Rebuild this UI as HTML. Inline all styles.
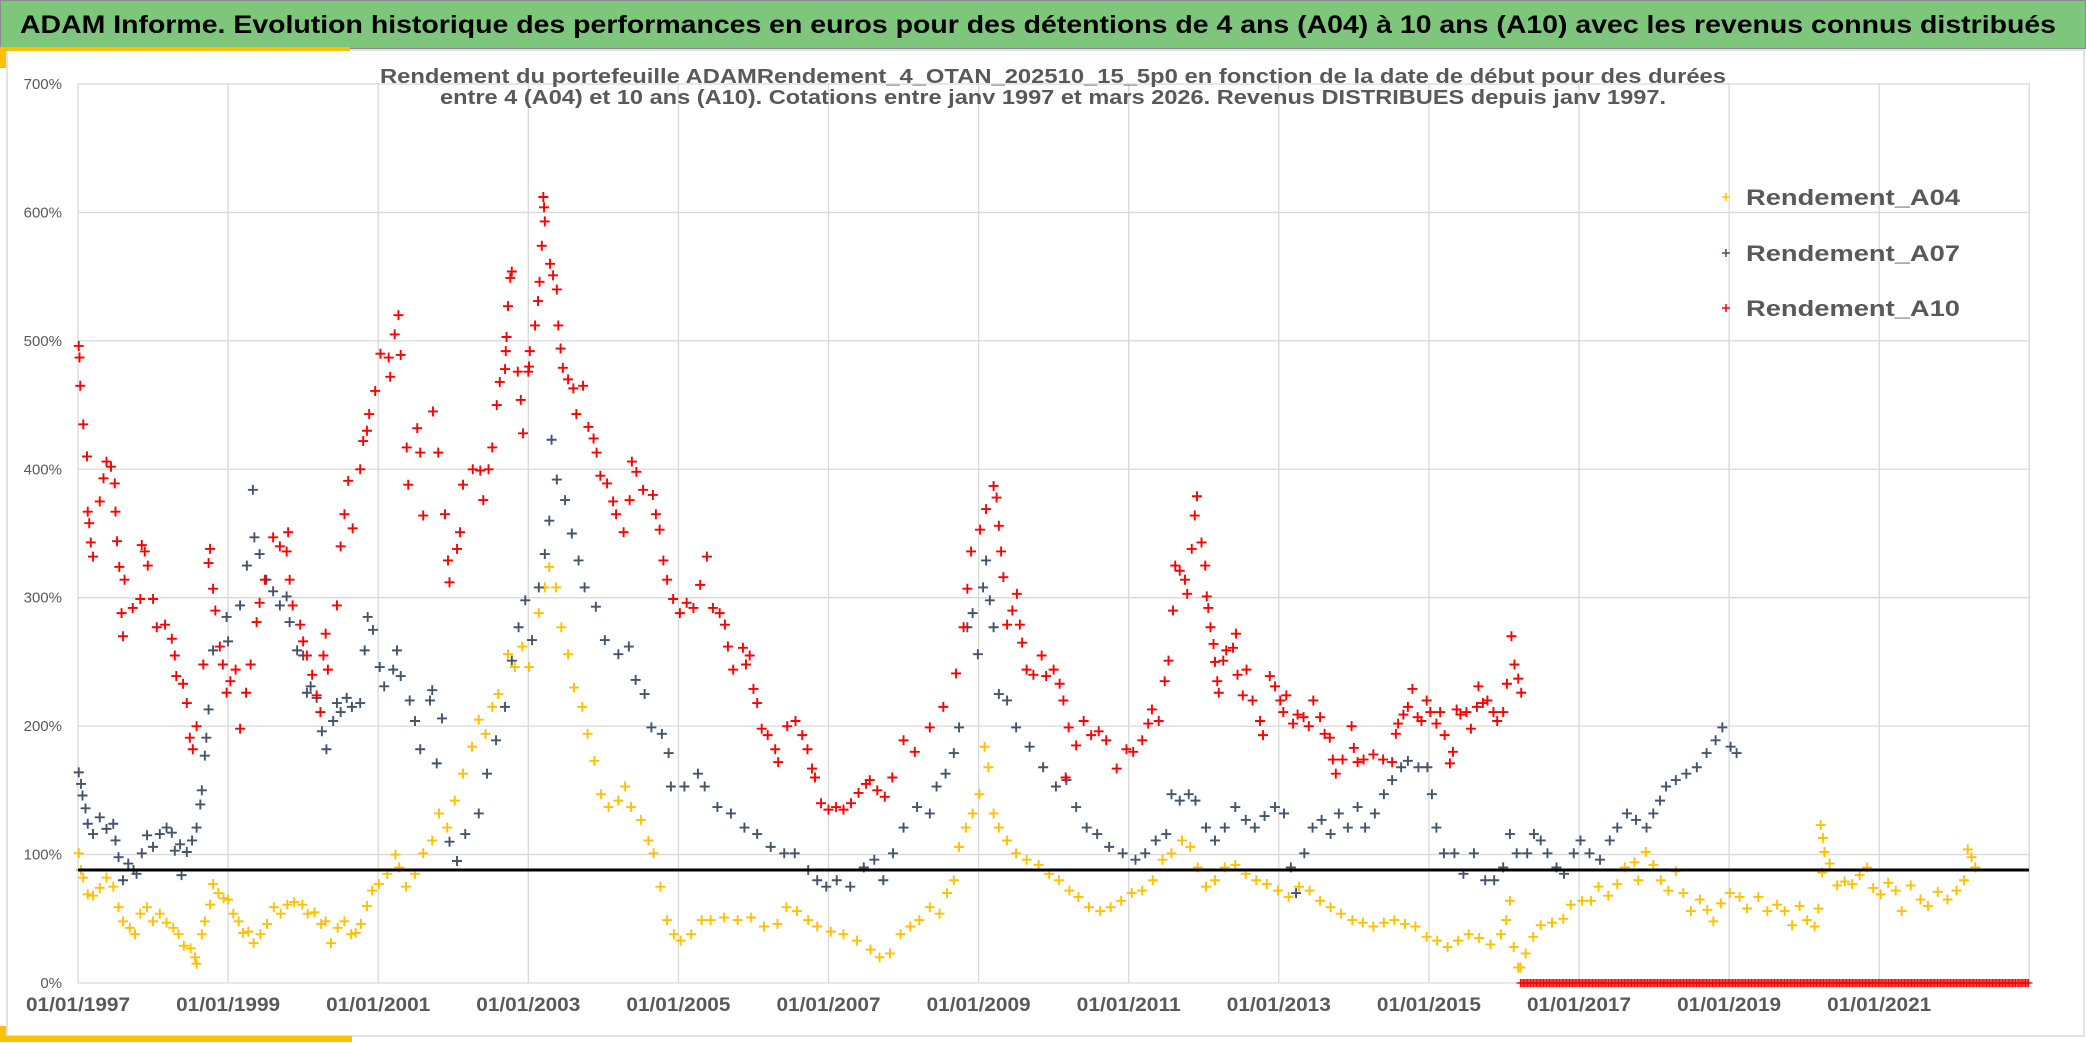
<!DOCTYPE html>
<html><head><meta charset="utf-8"><title>ADAM Informe</title>
<style>
html,body{margin:0;padding:0;background:#fff;}
svg{display:block;}
text{font-family:"Liberation Sans",sans-serif;}
</style></head>
<body>
<svg id="chart" width="2086" height="1043" viewBox="0 0 2086 1043" xmlns="http://www.w3.org/2000/svg">
<rect x="0" y="0" width="2086" height="1043" fill="#ffffff"/>
<rect x="7" y="50" width="2077" height="986" fill="none" stroke="#d9d9d9" stroke-width="1.5"/>
<rect x="0.5" y="0.5" width="2085" height="48" fill="#7dc67c" stroke="#8a8a8a" stroke-width="1"/>
<rect x="0" y="47" width="350" height="4" fill="#ffc000"/>
<rect x="0" y="47" width="6" height="21" fill="#ffc000"/>
<rect x="0" y="1036" width="352" height="6" fill="#ffc000"/>
<rect x="0" y="1026" width="6" height="16" fill="#ffc000"/>
<text x="20" y="33" font-size="25" font-weight="bold" fill="#000" textLength="2036" lengthAdjust="spacingAndGlyphs">ADAM Informe. Evolution historique des performances en euros pour des détentions de 4 ans (A04) à 10 ans (A10) avec les revenus connus distribués</text>
<g id="grid"></g>
<g id="axes"></g>
<text x="380" y="83" font-size="20" font-weight="bold" fill="#595959" textLength="1346" lengthAdjust="spacingAndGlyphs">Rendement du portefeuille ADAMRendement_4_OTAN_202510_15_5p0  en fonction de la date de début pour des durées</text>
<text x="440" y="104" font-size="20" font-weight="bold" fill="#595959" textLength="1226" lengthAdjust="spacingAndGlyphs">entre 4 (A04) et 10 ans (A10). Cotations entre janv 1997 et mars 2026. Revenus DISTRIBUES depuis janv 1997.</text>
<g id="marks"></g>
<g id="legend"></g>
</svg>
<script>
// ---- data ----
const yTicks = [0,100,200,300,400,500,600,700];
const xTickYears = [1997,1999,2001,2003,2005,2007,2009,2011,2013,2015,2017,2019,2021];
const xTickLabels = ["01/01/1997","01/01/1999","01/01/2001","01/01/2003","01/01/2005","01/01/2007","01/01/2009","01/01/2011","01/01/2013","01/01/2015","01/01/2017","01/01/2019","01/01/2021"];
const seriesNames = ["Rendement_A04","Rendement_A07","Rendement_A10"];
const referenceLevel = 88;

const a04Dates = [1997.01,1997.04,1997.07,1997.13,1997.2,1997.29,1997.38,1997.47,1997.54,1997.6,1997.69,1997.76,1997.83,1997.92,1998.0,1998.09,1998.18,1998.27,1998.34,1998.41,1998.5,1998.56,1998.58,1998.65,1998.69,1998.76,1998.8,1998.87,1998.94,1999.0,1999.07,1999.14,1999.2,1999.27,1999.34,1999.43,1999.52,1999.61,1999.7,1999.79,1999.88,1999.99,2000.06,2000.15,2000.24,2000.3,2000.37,2000.46,2000.55,2000.64,2000.7,2000.77,2000.85,2000.92,2001.01,2001.12,2001.23,2001.28,2001.37,2001.49,2001.6,2001.72,2001.81,2001.92,2002.02,2002.13,2002.25,2002.34,2002.43,2002.52,2002.6,2002.73,2002.82,2002.92,2003.01,2003.14,2003.22,2003.28,2003.37,2003.44,2003.53,2003.61,2003.72,2003.79,2003.88,2003.97,2004.07,2004.2,2004.29,2004.37,2004.5,2004.6,2004.67,2004.76,2004.85,2004.94,2005.03,2005.17,2005.31,2005.43,2005.61,2005.79,2005.97,2006.14,2006.32,2006.44,2006.58,2006.73,2006.85,2007.03,2007.2,2007.38,2007.56,2007.68,2007.82,2007.96,2008.09,2008.21,2008.35,2008.48,2008.58,2008.67,2008.74,2008.83,2008.92,2009.01,2009.08,2009.13,2009.2,2009.27,2009.38,2009.5,2009.64,2009.8,2009.94,2010.07,2010.21,2010.33,2010.47,2010.62,2010.76,2010.9,2011.04,2011.18,2011.32,2011.45,2011.57,2011.71,2011.82,2011.92,2012.03,2012.15,2012.28,2012.42,2012.56,2012.7,2012.84,2012.99,2013.13,2013.27,2013.41,2013.55,2013.69,2013.83,2013.98,2014.12,2014.26,2014.4,2014.54,2014.68,2014.82,2014.97,2015.11,2015.25,2015.39,2015.53,2015.67,2015.82,2015.96,2016.03,2016.08,2016.13,2016.19,2016.22,2016.29,2016.39,2016.49,2016.64,2016.79,2016.89,2017.04,2017.16,2017.26,2017.39,2017.51,2017.61,2017.74,2017.79,2017.89,2017.99,2018.09,2018.19,2018.29,2018.39,2018.49,2018.61,2018.71,2018.79,2018.89,2019.01,2019.14,2019.24,2019.39,2019.51,2019.64,2019.74,2019.84,2019.94,2020.04,2020.14,2020.19,2020.22,2020.25,2020.27,2020.24,2020.34,2020.44,2020.54,2020.64,2020.74,2020.84,2020.92,2021.02,2021.12,2021.22,2021.3,2021.42,2021.55,2021.65,2021.78,2021.91,2022.03,2022.13,2022.18,2022.23,2022.28];
const a04Values = [101,88,82,69,68,74,82,75,59,48,43,38,54,59,48,54,47,43,38,29,27,20,15,38,48,61,77,70,66,65,54,48,39,40,31,38,46,59,54,61,63,61,54,55,46,48,31,43,48,38,39,46,60,72,77,85,100,90,75,85,101,111,132,121,142,163,184,205,194,215,225,256,246,262,246,288,308,324,308,277,256,230,215,194,173,147,137,142,153,137,127,111,101,75,49,38,33,38,49,49,51,49,51,44,46,59,56,49,44,40,38,33,26,20,23,38,44,49,59,54,70,80,106,121,132,147,184,168,132,121,111,101,96,92,85,80,72,67,59,56,59,64,70,72,80,96,101,111,106,90,75,80,90,92,85,80,77,72,67,75,72,64,59,54,49,47,44,47,49,46,44,36,33,28,33,38,35,30,38,49,64,28,12,12,23,36,45,47,50,61,64,64,75,68,77,90,94,80,102,92,80,72,87,70,56,65,57,48,62,70,67,58,67,56,61,56,45,60,49,44,58,123,113,102,86,93,76,79,77,84,90,74,69,78,72,56,76,65,60,71,65,72,80,104,98,90];

const a07Dates = [1997.01,1997.04,1997.06,1997.1,1997.13,1997.2,1997.29,1997.38,1997.47,1997.5,1997.54,1997.6,1997.67,1997.74,1997.78,1997.85,1997.92,1998.0,1998.09,1998.18,1998.25,1998.29,1998.36,1998.38,1998.45,1998.52,1998.58,1998.63,1998.65,1998.69,1998.71,1998.74,1998.8,1998.98,1999.0,1999.16,1999.25,1999.33,1999.35,1999.42,1999.51,1999.6,1999.69,1999.78,1999.82,1999.92,2000.0,2000.05,2000.1,2000.18,2000.25,2000.31,2000.4,2000.45,2000.5,2000.58,2000.65,2000.76,2000.82,2000.86,2000.93,2001.02,2001.08,2001.2,2001.25,2001.3,2001.42,2001.49,2001.56,2001.69,2001.72,2001.78,2001.85,2001.95,2002.05,2002.16,2002.34,2002.45,2002.57,2002.69,2002.78,2002.87,2002.96,2003.05,2003.14,2003.22,2003.28,2003.31,2003.38,2003.49,2003.58,2003.67,2003.75,2003.9,2004.02,2004.2,2004.34,2004.43,2004.55,2004.64,2004.78,2004.87,2004.9,2005.08,2005.26,2005.35,2005.52,2005.7,2005.88,2006.05,2006.23,2006.41,2006.55,2006.73,2006.85,2006.97,2007.11,2007.29,2007.47,2007.61,2007.73,2007.86,2008.0,2008.18,2008.35,2008.44,2008.56,2008.67,2008.74,2008.85,2008.92,2008.99,2009.06,2009.1,2009.15,2009.2,2009.27,2009.38,2009.5,2009.68,2009.86,2010.03,2010.17,2010.3,2010.44,2010.58,2010.74,2010.92,2011.09,2011.22,2011.36,2011.5,2011.57,2011.68,2011.8,2011.89,2012.03,2012.15,2012.28,2012.42,2012.56,2012.68,2012.81,2012.95,2013.07,2013.16,2013.23,2013.34,2013.45,2013.57,2013.69,2013.8,2013.92,2014.05,2014.15,2014.28,2014.4,2014.51,2014.63,2014.72,2014.86,2014.98,2015.04,2015.1,2015.2,2015.34,2015.46,2015.6,2015.75,2015.87,2015.99,2016.08,2016.17,2016.31,2016.4,2016.49,2016.58,2016.7,2016.8,2016.93,2017.02,2017.14,2017.28,2017.41,2017.51,2017.64,2017.76,2017.9,2017.99,2018.08,2018.16,2018.29,2018.43,2018.57,2018.7,2018.82,2018.91,2019.02,2019.1];
const a07Values = [164,155,146,136,124,116,129,120,124,111,98,80,93,88,85,101,115,106,116,121,117,103,108,84,102,111,121,139,150,177,191,213,259,285,266,294,325,384,347,334,314,305,294,301,281,259,255,226,231,222,196,182,204,218,211,222,215,218,259,285,275,246,231,244,259,239,220,204,182,220,228,171,206,110,95,116,132,163,189,215,251,277,298,267,308,334,360,423,392,376,350,329,308,293,267,256,262,236,225,199,194,179,153,153,163,153,137,132,121,116,106,101,101,88,80,75,80,75,90,96,80,101,121,137,132,153,163,179,199,277,288,256,308,329,298,277,225,220,199,184,168,153,158,137,121,116,106,101,96,101,111,116,147,142,147,142,121,111,121,137,127,121,130,137,132,90,70,101,121,127,116,132,121,137,121,132,147,158,168,173,168,168,147,121,101,101,85,101,80,80,90,116,101,101,116,111,101,90,85,101,111,101,96,111,121,132,127,121,132,142,153,158,163,168,179,189,199,184,179];

const a10Dates = [1997.01,1997.02,1997.03,1997.07,1997.12,1997.13,1997.15,1997.17,1997.2,1997.29,1997.34,1997.38,1997.44,1997.49,1997.5,1997.52,1997.55,1997.58,1997.6,1997.62,1997.73,1997.83,1997.85,1997.89,1997.93,1998.0,1998.05,1998.16,1998.25,1998.29,1998.31,1998.4,1998.45,1998.49,1998.53,1998.58,1998.67,1998.74,1998.76,1998.8,1998.83,1998.89,1998.93,1998.98,1999.03,1999.1,1999.16,1999.24,1999.3,1999.38,1999.42,1999.49,1999.6,1999.69,1999.78,1999.8,1999.82,1999.86,1999.96,2000.0,2000.05,2000.12,2000.18,2000.23,2000.27,2000.3,2000.33,2000.45,2000.5,2000.55,2000.6,2000.66,2000.76,2000.8,2000.85,2000.88,2000.96,2001.03,2001.14,2001.16,2001.22,2001.27,2001.3,2001.38,2001.4,2001.52,2001.56,2001.6,2001.73,2001.8,2001.89,2001.93,2001.95,2002.05,2002.09,2002.13,2002.26,2002.36,2002.4,2002.47,2002.52,2002.58,2002.62,2002.69,2002.7,2002.71,2002.73,2002.76,2002.78,2002.86,2002.9,2002.93,2003.0,2003.01,2003.02,2003.09,2003.13,2003.15,2003.18,2003.2,2003.21,2003.22,2003.29,2003.33,2003.38,2003.4,2003.43,2003.46,2003.53,2003.6,2003.64,2003.73,2003.8,2003.87,2003.91,2003.96,2004.05,2004.13,2004.17,2004.27,2004.35,2004.38,2004.44,2004.53,2004.66,2004.7,2004.75,2004.8,2004.85,2004.93,2005.02,2005.11,2005.2,2005.29,2005.38,2005.46,2005.55,2005.62,2005.66,2005.73,2005.86,2005.9,2005.95,2006.0,2006.05,2006.11,2006.19,2006.29,2006.33,2006.45,2006.56,2006.65,2006.72,2006.78,2006.82,2006.9,2007.0,2007.1,2007.2,2007.3,2007.4,2007.5,2007.55,2007.65,2007.75,2007.85,2008.0,2008.15,2008.35,2008.53,2008.7,2008.8,2008.85,2008.9,2009.02,2009.1,2009.2,2009.24,2009.27,2009.3,2009.33,2009.38,2009.45,2009.51,2009.55,2009.58,2009.64,2009.73,2009.84,2009.9,2010.0,2010.08,2010.13,2010.16,2010.2,2010.3,2010.4,2010.5,2010.6,2010.7,2010.84,2010.97,2011.06,2011.18,2011.26,2011.31,2011.4,2011.48,2011.53,2011.59,2011.62,2011.68,2011.75,2011.78,2011.84,2011.88,2011.91,2011.97,2012.02,2012.04,2012.06,2012.09,2012.13,2012.15,2012.18,2012.2,2012.26,2012.3,2012.39,2012.43,2012.45,2012.52,2012.57,2012.65,2012.75,2012.79,2012.88,2012.95,2013.02,2013.06,2013.1,2013.19,2013.25,2013.33,2013.4,2013.46,2013.55,2013.61,2013.68,2013.72,2013.76,2013.85,2013.97,2014.0,2014.05,2014.13,2014.26,2014.39,2014.51,2014.56,2014.59,2014.66,2014.72,2014.78,2014.85,2014.9,2014.97,2015.02,2015.1,2015.15,2015.21,2015.28,2015.32,2015.37,2015.42,2015.5,2015.56,2015.64,2015.66,2015.72,2015.78,2015.86,2015.91,2015.99,2016.04,2016.1,2016.14,2016.19,2016.23];
const a10Values = [496,487,465,435,410,367,358,343,332,375,393,406,402,389,367,344,324,288,270,314,292,299,341,336,325,299,277,279,268,255,239,233,218,191,182,200,248,327,338,307,290,262,248,226,235,244,198,226,248,281,296,314,347,340,336,351,314,294,279,266,255,240,224,211,255,272,244,294,340,365,391,354,400,422,430,443,461,490,487,472,505,520,489,417,388,432,413,364,445,413,365,329,312,338,351,388,400,399,376,400,417,450,468,478,492,503,527,549,554,476,454,428,476,480,492,512,531,546,574,612,604,593,560,551,540,512,494,479,470,463,443,465,433,424,413,395,389,375,365,351,376,406,398,384,380,365,353,329,314,299,288,296,292,310,332,292,288,279,262,244,261,248,255,229,218,198,193,182,172,200,204,193,182,167,160,140,135,137,135,140,148,155,158,150,145,160,189,180,199,215,241,277,307,336,353,369,387,378,356,336,316,279,290,303,279,265,244,240,255,239,244,233,220,160,199,185,204,193,196,189,167,182,180,189,202,213,204,235,251,290,325,321,314,303,338,364,379,343,325,301,292,277,264,250,235,226,251,259,261,272,240,224,244,220,204,193,239,231,220,211,224,202,209,207,200,220,207,194,191,174,163,174,200,183,172,174,178,174,172,194,202,209,215,229,207,204,220,211,202,211,193,171,180,213,209,211,198,215,231,218,220,211,204,211,233,270,248,237,226];

const a10ZeroStart = 2016.22;
const a10ZeroEnd = 2023.0;
const a10ZeroValue = 0;

// ---- layout ----
const X0 = 78, PX_PER_YEAR = 75.05, Y0 = 983, PX_PER_PCT = 1.2843;
const PLOT_RIGHT = 2029, PLOT_TOP = 83;
function xs(year){ return X0 + (year - 1997) * PX_PER_YEAR; }
function ys(v){ return Y0 - v * PX_PER_PCT; }
const NS = "http://www.w3.org/2000/svg";
function mk(tag, attrs, parent){ const e = document.createElementNS(NS, tag); for (const k in attrs) e.setAttribute(k, attrs[k]); parent.appendChild(e); return e; }

const grid = document.getElementById('grid');
const axes = document.getElementById('axes');
const marks = document.getElementById('marks');
const legend = document.getElementById('legend');

for (let i = 0; i < yTicks.length; i++) {
  const y = ys(yTicks[i]);
  const gl = mk('line', {x1: X0, x2: PLOT_RIGHT, y1: y, y2: y, stroke: '#d9d9d9', 'stroke-width': 1.3}, grid);
  
  
  const t = mk('text', {x: 62, y: y + 5, 'font-size': 15, fill: '#595959', 'text-anchor': 'end'}, axes);
  t.textContent = yTicks[i] + '%';
  
  
}
for (let yr = 1997; yr <= 2023; yr += 2) {
  const x = xs(yr);
  const gl = mk('line', {x1: x, x2: x, y1: PLOT_TOP, y2: Y0, stroke: '#d9d9d9', 'stroke-width': 1.3}, grid);
  
  
}
for (let i = 0; i < xTickYears.length; i++) {
  const t = mk('text', {x: xs(xTickYears[i]), y: 1011, 'font-size': 19, 'font-weight': 'bold', fill: '#595959', 'text-anchor': 'middle', textLength: 104, lengthAdjust: 'spacingAndGlyphs'}, axes);
  t.textContent = xTickLabels[i];
  
  
}

function plus(x, y, color, parent, s, w){
  const p = mk('path', {d: `M${x-s} ${y}H${x+s}M${x} ${y-s}V${y+s}`, stroke: color, 'stroke-width': w, fill: 'none'}, parent);
  return p;
}
function drawSeries(dates, values, color, name){
  const g = mk('g', {}, marks);
  
  
  for (let i = 0; i < dates.length; i++) {
    const p = plus(xs(dates[i]), ys(values[i]), color, g, 5, 1.9);
    
    
  }
  return g;
}
drawSeries(a04Dates, a04Values, '#ffc000', 'a04');
drawSeries(a07Dates, a07Values, '#44546a', 'a07');
const gRed = drawSeries(a10Dates, a10Values, '#ff0000', 'a10');
for (let d = a10ZeroStart; d <= a10ZeroEnd + 1e-6; d += 1/52) {
  const p = plus(xs(d), ys(a10ZeroValue), '#ff0000', gRed, 4, 1.2);
  
  
}

const ref = mk('line', {x1: X0, x2: PLOT_RIGHT, y1: ys(referenceLevel), y2: ys(referenceLevel), stroke: '#000', 'stroke-width': 3}, marks);



const legendColors = ['#ffc000', '#44546a', '#ff0000'];
const legendY = [197, 253, 308];
for (let i = 0; i < seriesNames.length; i++) {
  const g = mk('g', {}, legend);
  
  
  const m = plus(1726, legendY[i], legendColors[i], g, 4, 1.5);
  
  
  const t = mk('text', {x: 1746, y: legendY[i] + 8, 'font-size': 22, 'font-weight': 'bold', fill: '#595959', textLength: 214, lengthAdjust: 'spacingAndGlyphs'}, g);
  t.textContent = seriesNames[i];
  
  
}
</script>
</body></html>
